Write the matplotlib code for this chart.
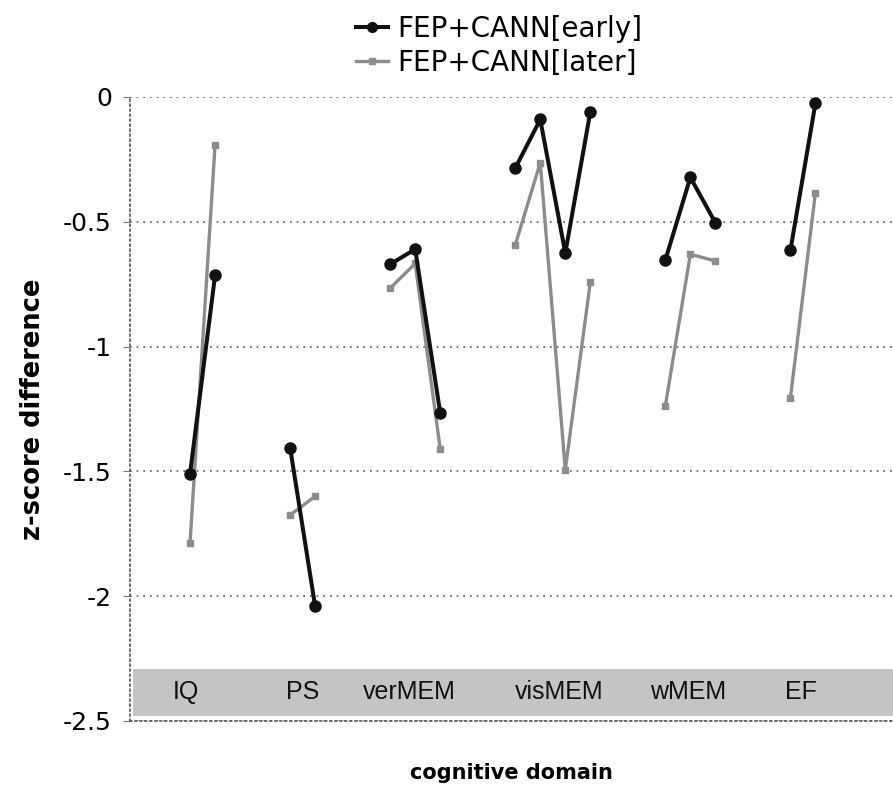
import matplotlib
matplotlib.use('Agg')
import matplotlib.pyplot as plt
from matplotlib.lines import Line2D

# cognitive domains and their test slots along the x axis
domains = ['IQ', 'PS', 'verMEM', 'visMEM', 'wMEM', 'EF']
slots = [[0, 1], [4, 5], [8, 9, 10], [13, 14, 15, 16], [19, 20, 21], [24, 25]]
label_x = [-0.16, 4.5, 8.76, 14.76, 19.9, 24.4]

# z-score differences, FEP+CANN early
early_IQ = [-1.51, -0.715]
early_PS = [-1.405, -2.04]
early_verMEM = [-0.67, -0.61, -1.265]
early_visMEM = [-0.285, -0.09, -0.625, -0.06]
early_wMEM = [-0.653, -0.322, -0.504]
early_EF = [-0.613, -0.025]

# z-score differences, FEP+CANN later
later_IQ = [-1.786, -0.192]
later_PS = [-1.675, -1.60]
later_verMEM = [-0.766, -0.667, -1.41]
later_visMEM = [-0.593, -0.263, -1.494, -0.742]
later_wMEM = [-1.237, -0.630, -0.657]
later_EF = [-1.205, -0.383]

early = [early_IQ, early_PS, early_verMEM, early_visMEM, early_wMEM, early_EF]
later = [later_IQ, later_PS, later_verMEM, later_visMEM, later_wMEM, later_EF]

black = '#111111'
grey = '#8c8c8c'

fig = plt.figure(figsize=(8.93, 7.90), dpi=100)
ax = fig.add_axes([130 / 893, 1 - 721 / 790, 1 - 130 / 893, (721 - 97) / 790])

ax.set_xlim(-2.4, 28.1)
ax.set_ylim(-2.5, 0)

# grey band holding the domain names
ax.axhspan(-2.48, -2.29, xmin=0.004, xmax=1.0, color='#c4c4c4', zorder=0, lw=0)
for name, lx in zip(domains, label_x):
    ax.text(lx, -2.385, name, ha='center', va='center', fontsize=18,
            family='Liberation Sans', color='#111111')

for xs, ys in zip(slots, later):
    ax.plot(xs, ys, color=grey, lw=2.4, marker='s', ms=4.5, zorder=2,
            solid_capstyle='round')
for xs, ys in zip(slots, early):
    ax.plot(xs, ys, color=black, lw=2.9, marker='o', ms=8, zorder=3)

ax.set_yticks([0, -0.5, -1, -1.5, -2, -2.5])
ax.set_yticklabels(['0', '-0.5', '-1', '-1.5', '-2', '-2.5'], fontsize=18)
ax.set_xticks([])
ax.yaxis.grid(True, linestyle=(0, (1, 3)), color='#555555', lw=1.2)
ax.tick_params(axis='y', length=5, width=0.8, color='#777777', pad=8)

for side in ['top', 'right']:
    ax.spines[side].set_visible(False)
for side in ['left', 'bottom']:
    ax.spines[side].set_linestyle((0, (1, 2)))
    ax.spines[side].set_color('#555555')
    ax.spines[side].set_linewidth(1.2)

ax.set_ylabel('z-score difference', fontsize=18.5, fontweight='bold', labelpad=12)
ax.set_xlabel('cognitive domain', fontsize=15, fontweight='bold', labelpad=30)

handles = [Line2D([], [], color=black, lw=2.9, marker='o', ms=7),
           Line2D([], [], color=grey, lw=2.4, marker='s', ms=4.5)]
fig.legend(handles, ['FEP+CANN[early]', 'FEP+CANN[later]'], loc='upper left',
           bbox_to_anchor=(350 / 893, 0.988), frameon=False, fontsize=20,
           handlelength=1.15, handletextpad=0.35, labelspacing=0.2,
           borderpad=0.2, borderaxespad=0)

fig.savefig('out.png', dpi=100)
